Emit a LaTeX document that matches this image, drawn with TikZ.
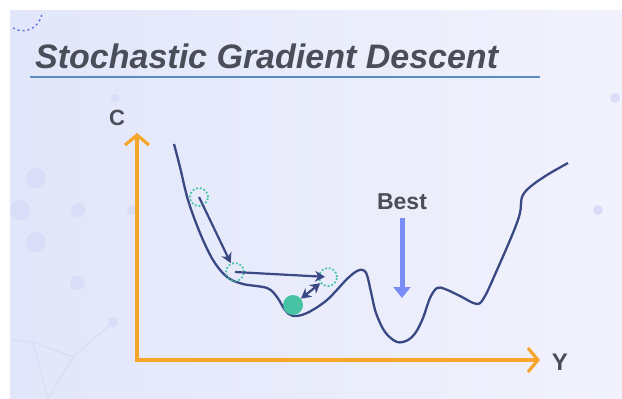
\documentclass[tikz,border=0pt]{standalone}
\usepackage{fontspec}
\setmainfont{Liberation Sans}
\newfontfamily\titlefont{Liberation Sans}
\usetikzlibrary{arrows.meta, positioning}

\definecolor{bgleft}{HTML}{E2E6FA}
\definecolor{bgright}{HTML}{F1F2FC}
\definecolor{dotcol}{HTML}{D9DDF8}
\definecolor{inkgray}{HTML}{4A4E58}
\definecolor{linecol}{HTML}{5A8CC4}
\definecolor{axiscol}{HTML}{F5A52A}
\definecolor{curvecol}{HTML}{3A4884}
\definecolor{tealcol}{HTML}{45C3A3}
\definecolor{bestcol}{HTML}{7A8DF6}
\definecolor{arccol}{HTML}{5F73E3}

\begin{document}
\begin{tikzpicture}[
    x=1pt, y=-1pt,
    tag/.style={font=\bfseries\fontsize{22}{22}\selectfont, text=inkgray, inner sep=0pt},
    axis/.style={line width=3.2pt, axiscol, line join=miter,
        {Straight Barb[length=10pt, width=24pt]}-{Straight Barb[length=10pt, width=24pt]}},
    hop/.style={circle, draw=tealcol, dotted, line width=1.8pt, minimum size=18pt, inner sep=0pt},
    ball/.style={circle, fill=tealcol, minimum size=20pt, inner sep=0pt},
    jump/.style={-{Stealth[length=10pt, width=11pt]}, line width=2.2pt, curvecol},
    bestarrow/.style={-{Triangle[length=11pt, width=17pt]}, line width=5pt, bestcol}
]
    % Background
    \useasboundingbox (0,0) rectangle (622,399);
    \fill[white] (0,0) rectangle (622,399);
    \shade[left color=bgleft, right color=bgright] (10,10) rectangle (622,399);
    \draw[arccol, dash pattern=on 2pt off 3pt, line width=1.5pt] (13,28) .. controls (25,35) and (40,28) .. (42,13);
    \foreach \px/\py/\r in {36/178/10, 20/210/10, 78/210/7, 36/242/10, 77/283/7, 113/322/5, 132/210/5, 598/210/5, 115/98/4, 615/98/5}
        \fill[dotcol] (\px,\py) circle[radius=\r pt];
    \draw[dotcol, line width=1.2pt] (12,340) -- (33,342) -- (73,357) -- (113,322);
    \draw[dotcol, line width=1.2pt] (33,342) -- (48,399) -- (73,357);

    % Title
    \node[anchor=base west, inner sep=0pt, font=\titlefont\bfseries\itshape\fontsize{34}{34}\selectfont, text=inkgray] (title) at (35,68) {Stochastic Gradient Descent};
    \draw[linecol, line width=2.2pt] (30,77) -- (540,77);

    % Axes
    \coordinate (origin) at (137,360);
    \coordinate (ctop) at (137,133);
    \coordinate (yend) at (540,360);
    \draw[axis] (ctop) -- (origin) -- (yend);
    \node[tag] (clab) at (117,118) {C};
    \node[tag, font=\bfseries\fontsize{24}{24}\selectfont] (ylab) at (560,362) {Y};

    % Cost curve
    \draw[curvecol, line width=2.3pt] plot[smooth, tension=0.55] coordinates {
        (174,144) (180,167) (188,200) (200,233) (213,260) (227,277) (243,284)
        (267,288) (277,297) (285,310) (293,316) (307,313) (327,300) (347,279)
        (357,271) (363,270) (367,275) (371,292) (376,313) (385,332) (397,342)
        (408,340) (416,332) (423,318) (430,298) (437,288) (445,289) (460,296)
        (477,304) (485,296) (497,270) (513,233) (520,213) (522,197) (530,187)
        (547,175) (568,163)};

    % Nodes
    \node[hop] (p1) at (199,197) {};
    \node[hop] (p2) at (235,272) {};
    \node[hop] (p3) at (328,277) {};
    \node[ball] (ball) at (293,305) {};
    \node[tag, font=\bfseries\fontsize{23}{23}\selectfont] (best) at (402,202) {Best};
    \coordinate (bestend) at (402,298);

    % Arrows
    \draw[jump] (p1.center) -- (p2);
    \draw[jump, shorten >=3pt] (p2.center) -- (p3.center);
    \draw[jump, {Stealth[length=10pt, width=11pt]}-{Stealth[length=10pt, width=11pt]}] (ball) -- (p3);
    \draw[bestarrow] ([yshift=-8pt]best.south) -- (bestend);
\end{tikzpicture}
\end{document}
